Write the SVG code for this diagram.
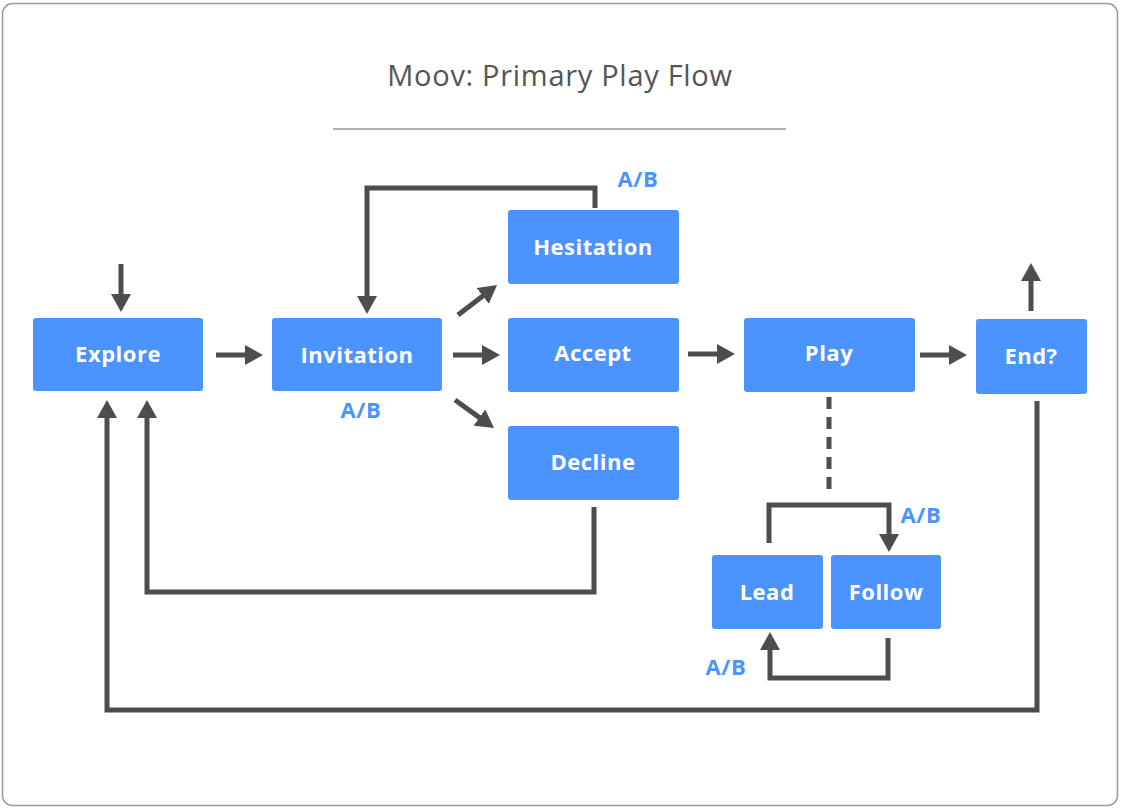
<svg xmlns="http://www.w3.org/2000/svg" width="1121" height="808" viewBox="0 0 1121 808">
<style>
.node rect{fill:#4B93FF;rx:3;}
.node text{font-family:"Open Sans","Noto Sans",sans-serif;font-weight:700;font-size:22px;letter-spacing:0.5px;fill:#fff;text-anchor:middle;}
.lbl{font-family:"Open Sans","Noto Sans",sans-serif;font-weight:700;font-size:22px;letter-spacing:0.6px;fill:#4B93FF;text-anchor:middle;}
.c{fill:none;stroke:#4d4d4d;stroke-width:5;stroke-linejoin:miter;}
.ca{marker-end:url(#ah);}
</style>
<defs>
<marker id="ah" markerUnits="userSpaceOnUse" markerWidth="18" markerHeight="20" refX="7" refY="10" orient="auto"><path d="M0,0 L18,10 L0,20 z" fill="#4d4d4d"/></marker>
</defs>
<rect x="2.5" y="3.5" width="1115" height="802" rx="10" fill="#fff" stroke="#9a9a9a" stroke-width="1.5"/>
<text x="560" y="86" font-family="'Open Sans','Noto Sans',sans-serif" font-size="29" letter-spacing="0.7" fill="#555" text-anchor="middle">Moov: Primary Play Flow</text>
<line x1="333" y1="129" x2="786" y2="129" stroke="#999" stroke-width="1.5"/>
<g id="connectors">
<path class="c ca" d="M121,264 V301"/>
<path class="c ca" d="M216,355 H252"/>
<path class="c ca" d="M453,355 H489"/>
<path class="c ca" d="M688,354 H724"/>
<path class="c ca" d="M920,355 H956"/>
<path class="c ca" d="M1031,311 V274"/>
<path class="c ca" d="M458,315 L488.3,291.7"/>
<path class="c ca" d="M455,400 L485.1,421.6"/>
<path class="c ca" d="M595,208 V188 H367 V303"/>
<path class="c ca" d="M594,507 V592 H147 V411"/>
<path class="c ca" d="M1037,401 V710 H107 V411"/>
<path class="c" d="M829,397 V495" stroke-dasharray="12 8"/>
<path class="c ca" d="M769,543 V505 H889 V541"/>
<path class="c ca" d="M888,638 V678 H770 V643"/>
</g>
<g id="explore" class="node"><rect x="33" y="318" width="170" height="73"/><text x="118" y="362">Explore</text></g>
<g id="invitation" class="node"><rect x="272" y="318" width="170" height="73"/><text x="357" y="363">Invitation</text></g>
<g id="hesitation" class="node"><rect x="508" y="210" width="171" height="74"/><text x="593" y="255">Hesitation</text></g>
<g id="accept" class="node"><rect x="508" y="318" width="171" height="74"/><text x="593" y="361">Accept</text></g>
<g id="decline" class="node"><rect x="508" y="426" width="171" height="74"/><text x="593" y="470">Decline</text></g>
<g id="play" class="node"><rect x="744" y="318" width="171" height="74"/><text x="829" y="361">Play</text></g>
<g id="end" class="node"><rect x="976" y="319" width="111" height="75"/><text x="1031" y="364">End?</text></g>
<g id="lead" class="node"><rect x="712" y="555" width="111" height="74"/><text x="767" y="600">Lead</text></g>
<g id="follow" class="node"><rect x="831" y="555" width="110" height="74"/><text x="886" y="600">Follow</text></g>
<g id="labels">
<text class="lbl" x="638" y="187">A/B</text>
<text class="lbl" x="361" y="418">A/B</text>
<text class="lbl" x="921" y="523">A/B</text>
<text class="lbl" x="726" y="675">A/B</text>
</g>
</svg>
